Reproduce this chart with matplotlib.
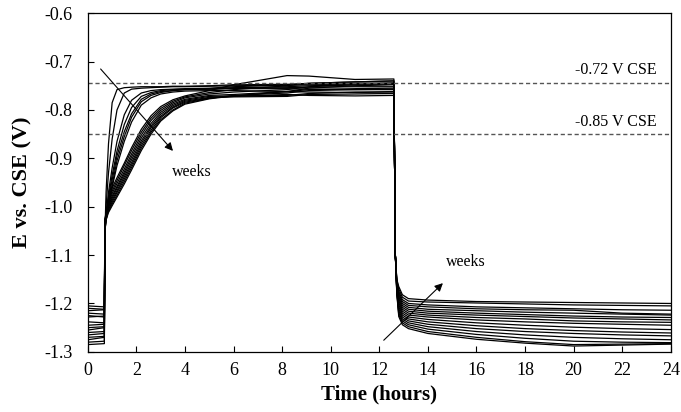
import matplotlib
matplotlib.use('Agg')
import matplotlib.pyplot as plt
import numpy as np

plt.rcParams['font.family'] = ['Liberation Serif', 'DejaVu Serif']

# Tempi (ore) - fase con protezione ON e fase OFF
t_on = [0.0, 0.68, 0.70, 0.75, 0.85, 1.0, 1.2, 1.5, 1.8, 2.2, 2.6, 3.0, 3.5, 4.0,
        5.0, 6.0, 8.2, 9.1, 11.0, 12.6]
t_off = [12.63, 12.66, 12.72, 12.8, 12.95, 13.2, 14.0, 16.0, 18.0, 20.0, 22.0, 24.0]

# Potenziale (V vs CSE) durante la fase ON, una riga per settimana
on_E = [
    [-1.225, -1.228, -1.06, -0.97, -0.87, -0.785, -0.758, -0.754, -0.753, -0.752, -0.752, -0.752, -0.751, -0.751, -0.750, -0.748, -0.747, -0.746, -0.745, -0.744],
    [-1.265, -1.262, -1.06, -1.00, -0.93, -0.86, -0.80, -0.765, -0.757, -0.755, -0.754, -0.753, -0.752, -0.752, -0.751, -0.750, -0.749, -0.748, -0.747, -0.746],
    [-1.210, -1.212, -1.05, -1.02, -0.97, -0.92, -0.865, -0.81, -0.78, -0.765, -0.760, -0.758, -0.757, -0.756, -0.755, -0.752, -0.748, -0.745, -0.742, -0.740],
    [-1.245, -1.243, -1.05, -1.02, -0.98, -0.935, -0.885, -0.83, -0.795, -0.772, -0.764, -0.760, -0.758, -0.757, -0.756, -0.754, -0.752, -0.750, -0.748, -0.747],
    [-1.275, -1.270, -1.05, -1.025, -0.985, -0.945, -0.895, -0.845, -0.808, -0.778, -0.767, -0.762, -0.760, -0.758, -0.757, -0.755, -0.754, -0.753, -0.752, -0.752],
    [-1.220, -1.222, -1.05, -1.03, -0.99, -0.955, -0.905, -0.855, -0.815, -0.783, -0.770, -0.764, -0.760, -0.758, -0.757, -0.756, -0.756, -0.757, -0.758, -0.758],
    [-1.255, -1.250, -1.05, -1.03, -0.995, -0.96, -0.915, -0.865, -0.825, -0.790, -0.775, -0.767, -0.763, -0.761, -0.760, -0.760, -0.762, -0.763, -0.764, -0.765],
    [-1.205, -1.207, -1.03, -1.01, -0.985, -0.962, -0.94, -0.91, -0.878, -0.840, -0.812, -0.793, -0.779, -0.771, -0.760, -0.748, -0.729, -0.730, -0.737, -0.736],
    [-1.215, -1.213, -1.03, -1.012, -0.99, -0.968, -0.946, -0.915, -0.884, -0.846, -0.817, -0.797, -0.782, -0.773, -0.764, -0.758, -0.750, -0.745, -0.742, -0.740],
    [-1.228, -1.226, -1.03, -1.015, -0.994, -0.973, -0.952, -0.922, -0.891, -0.852, -0.822, -0.801, -0.785, -0.775, -0.767, -0.763, -0.758, -0.752, -0.748, -0.745],
    [-1.238, -1.240, -1.03, -1.017, -0.997, -0.978, -0.958, -0.928, -0.897, -0.858, -0.828, -0.805, -0.788, -0.778, -0.770, -0.768, -0.762, -0.758, -0.756, -0.755],
    [-1.250, -1.248, -1.03, -1.019, -1.0, -0.982, -0.962, -0.933, -0.903, -0.864, -0.833, -0.809, -0.791, -0.780, -0.772, -0.771, -0.770, -0.766, -0.763, -0.762],
    [-1.260, -1.258, -1.03, -1.021, -1.003, -0.986, -0.967, -0.938, -0.909, -0.869, -0.837, -0.813, -0.794, -0.782, -0.774, -0.773, -0.772, -0.768, -0.767, -0.766],
    [-1.270, -1.268, -1.03, -1.023, -1.006, -0.99, -0.971, -0.943, -0.914, -0.874, -0.842, -0.816, -0.796, -0.784, -0.775, -0.772, -0.768, -0.770, -0.771, -0.770],
    [-1.280, -1.278, -1.03, -1.025, -1.009, -0.994, -0.976, -0.948, -0.919, -0.879, -0.846, -0.82, -0.80, -0.786, -0.776, -0.770, -0.765, -0.760, -0.758, -0.757],
    [-1.285, -1.283, -1.03, -1.027, -1.012, -0.998, -0.980, -0.953, -0.924, -0.884, -0.85, -0.823, -0.802, -0.788, -0.777, -0.771, -0.762, -0.755, -0.750, -0.748],
]

# Potenziale durante la fase OFF
off_E = [
    [-0.92, -1.10, -1.150, -1.165, -1.182, -1.190, -1.193, -1.196, -1.197, -1.198, -1.199, -1.200],
    [-0.92, -1.10, -1.152, -1.170, -1.187, -1.195, -1.197, -1.199, -1.201, -1.203, -1.204, -1.205],
    [-0.92, -1.10, -1.154, -1.175, -1.192, -1.200, -1.203, -1.207, -1.209, -1.211, -1.213, -1.214],
    [-0.92, -1.10, -1.156, -1.179, -1.196, -1.204, -1.207, -1.211, -1.213, -1.214, -1.220, -1.222],
    [-0.92, -1.10, -1.158, -1.183, -1.200, -1.208, -1.212, -1.215, -1.218, -1.220, -1.222, -1.224],
    [-0.92, -1.10, -1.160, -1.187, -1.204, -1.212, -1.216, -1.220, -1.223, -1.226, -1.228, -1.229],
    [-0.92, -1.10, -1.162, -1.191, -1.208, -1.216, -1.220, -1.224, -1.227, -1.230, -1.232, -1.234],
    [-0.92, -1.10, -1.164, -1.195, -1.212, -1.220, -1.224, -1.229, -1.232, -1.236, -1.238, -1.239],
    [-0.92, -1.10, -1.166, -1.199, -1.216, -1.224, -1.228, -1.234, -1.238, -1.241, -1.243, -1.245],
    [-0.92, -1.10, -1.168, -1.203, -1.220, -1.228, -1.233, -1.240, -1.245, -1.249, -1.252, -1.254],
    [-0.92, -1.10, -1.170, -1.207, -1.224, -1.232, -1.238, -1.246, -1.252, -1.256, -1.259, -1.261],
    [-0.92, -1.10, -1.172, -1.211, -1.228, -1.236, -1.243, -1.252, -1.258, -1.262, -1.265, -1.267],
    [-0.92, -1.10, -1.174, -1.215, -1.232, -1.240, -1.248, -1.258, -1.265, -1.270, -1.273, -1.275],
    [-0.92, -1.10, -1.176, -1.219, -1.236, -1.244, -1.253, -1.264, -1.272, -1.278, -1.280, -1.281],
    [-0.92, -1.10, -1.178, -1.223, -1.240, -1.248, -1.258, -1.270, -1.279, -1.285, -1.284, -1.283],
    [-0.92, -1.10, -1.180, -1.227, -1.244, -1.252, -1.262, -1.274, -1.282, -1.288, -1.286, -1.284],
]

# Soglie di protezione
thr_levels = [-0.744, -0.85]
thr_labels = ['-0.72 V CSE', '-0.85 V CSE']

fig = plt.figure(figsize=(6.81, 4.12), dpi=100)
ax = fig.add_axes([0.129, 0.146, 0.856, 0.822])

for e_on, e_off in zip(on_E, off_E):
    ax.plot(t_on + t_off, e_on + e_off, color='black', linewidth=0.9)

for lev in thr_levels:
    ax.axhline(lev, color='#555555', linestyle=(0, (3, 2)), linewidth=1.0)
ax.text(23.4, -0.718, thr_labels[0], ha='right', va='center', fontsize=11.5)
ax.text(23.4, -0.825, thr_labels[1], ha='right', va='center', fontsize=11.5)

# Frecce "weeks"
ax.annotate('', xy=(3.58, -0.889), xytext=(0.45, -0.711),
            arrowprops=dict(arrowstyle='-|>', color='black', lw=0.8, mutation_scale=12))
ax.text(4.3, -0.929, 'weeks', ha='center', va='center', fontsize=11.5)
ax.annotate('', xy=(14.7, -1.154), xytext=(12.1, -1.28),
            arrowprops=dict(arrowstyle='-|>', color='black', lw=0.8, mutation_scale=12))
ax.text(15.56, -1.114, 'weeks', ha='center', va='center', fontsize=11.5)

ax.set_xlim(0, 24)
ax.set_ylim(-1.3, -0.6)
ax.set_xticks(np.arange(0, 25, 2))
ax.set_yticks(np.arange(-1.3, -0.55, 0.1))
ax.set_yticklabels([f'{v:.1f}' for v in np.arange(-1.3, -0.55, 0.1)])
ax.tick_params(direction='in', labelsize=13, length=4, width=0.8)
ax.tick_params(axis='x', pad=7)
ax.tick_params(axis='y', pad=11)
for s in ax.spines.values():
    s.set_linewidth(0.9)
ax.set_xlabel('Time (hours)', fontsize=15, fontweight='bold', labelpad=4)
ax.set_ylabel('E vs. CSE (V)', fontsize=16, fontweight='bold', labelpad=8)

fig.savefig('out.png', dpi=100)
